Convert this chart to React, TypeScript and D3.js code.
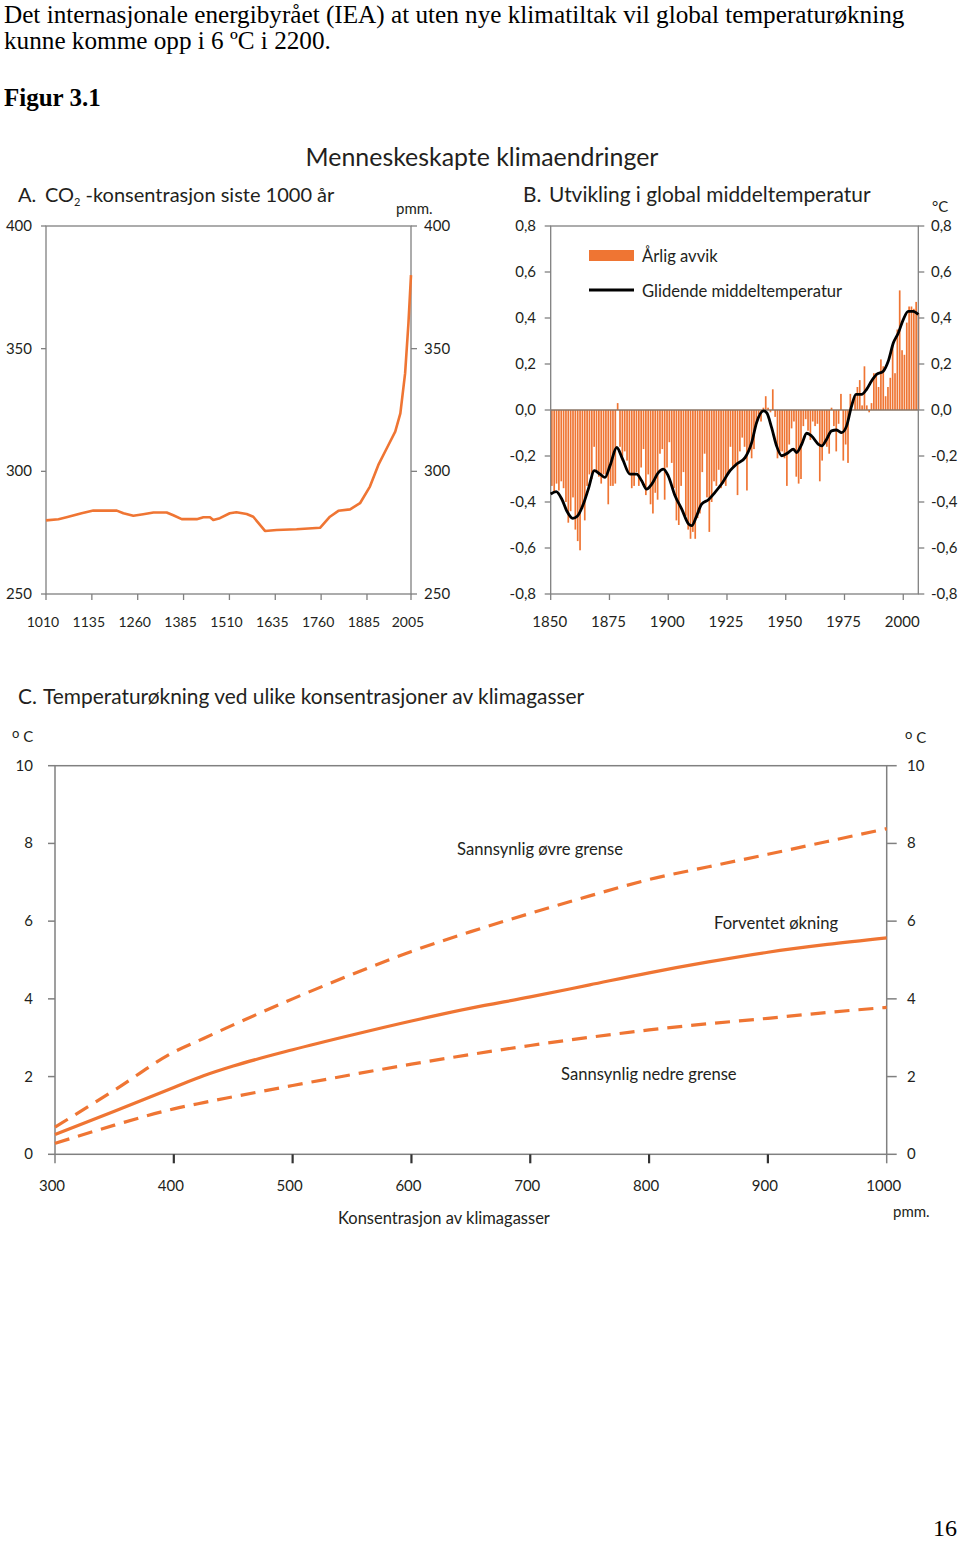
import React from "react";
import * as d3 from "d3";

// ---------- Panel A: CO2 concentration last 1000 years ----------
const co2Years = [1010, 1044, 1066, 1107, 1139, 1203, 1221, 1248, 1275, 1303, 1339, 1357, 1380, 1421, 1439, 1457, 1466, 1484, 1511, 1529, 1557, 1575, 1607, 1639, 1693, 1757, 1784, 1807, 1839, 1866, 1893, 1916, 1939, 1962, 1976, 1989, 1998, 2005];
const co2Values = [280.0, 280.5, 281.3, 282.9, 284.0, 284.0, 282.9, 281.9, 282.5, 283.2, 283.2, 282.1, 280.5, 280.5, 281.3, 281.3, 280.2, 280.9, 282.9, 283.3, 282.6, 281.5, 275.7, 276.1, 276.4, 277.0, 281.5, 283.9, 284.5, 287.0, 293.8, 302.6, 309.4, 316.2, 323.6, 340.0, 360.3, 380.0];
const co2YTicks = [250, 300, 350, 400];
const co2XTicks = [1010, 1135, 1260, 1385, 1510, 1635, 1760, 1885, 2005];

// ---------- Panel B: global mean temperature ----------
const tempFirstYear = 1850;
const tempAnomaly = [
  -0.33, -0.36, -0.32, -0.35, -0.31, -0.34, -0.40, -0.49, -0.44, -0.38,
  -0.52, -0.57, -0.61, -0.43, -0.48, -0.33, -0.28, -0.30, -0.16, -0.27,
  -0.29, -0.32, -0.28, -0.28, -0.41, -0.33, -0.33, -0.32, 0.03, -0.16,
  -0.22, -0.18, -0.22, -0.28, -0.34, -0.33, -0.27, -0.33, -0.25, -0.17,
  -0.37, -0.28, -0.41, -0.45, -0.36, -0.39, -0.19, -0.17, -0.39, -0.25,
  -0.14, -0.23, -0.34, -0.48, -0.50, -0.33, -0.27, -0.46, -0.52, -0.56,
  -0.53, -0.56, -0.47, -0.45, -0.27, -0.19, -0.38, -0.53, -0.40, -0.31,
  -0.33, -0.26, -0.34, -0.32, -0.33, -0.27, -0.16, -0.25, -0.24, -0.37,
  -0.18, -0.12, -0.16, -0.35, -0.17, -0.21, -0.17, -0.06, -0.02, -0.05,
  0.01, 0.06, 0.01, -0.01, 0.09, -0.03, -0.21, -0.18, -0.18, -0.21,
  -0.33, -0.15, -0.08, -0.05, -0.29, -0.32, -0.30, -0.07, -0.04, -0.09,
  -0.13, -0.05, -0.07, -0.06, -0.31, -0.22, -0.15, -0.16, -0.19, 0.01,
  -0.07, -0.18, -0.06, 0.07, -0.22, -0.15, -0.23, 0.07, 0.00, 0.06,
  0.10, 0.13, 0.02, 0.19, 0.02, -0.01, 0.03, 0.16, 0.16, 0.10,
  0.22, 0.19, 0.06, 0.10, 0.14, 0.28, 0.16, 0.35, 0.52, 0.26,
  0.24, 0.38, 0.45, 0.45, 0.44, 0.47, 0.42,
];
const smoothYears = [1850, 1852.3, 1854.7, 1856.8, 1859.4, 1861.3, 1863.9, 1866, 1868.6, 1871, 1873.1, 1875.2, 1878.1, 1880.6, 1883.7, 1886.6, 1888.7, 1890.8, 1893, 1895.8, 1897.9, 1900, 1902.9, 1905.7, 1908.6, 1910, 1912.1, 1914.2, 1917.1, 1919.9, 1922.7, 1926.3, 1929.1, 1932.7, 1935.5, 1937.6, 1940.5, 1941.9, 1944, 1946.1, 1948.3, 1951.1, 1953.2, 1954.6, 1956.8, 1958.9, 1961, 1963.9, 1965.3, 1967.4, 1969.5, 1971.6, 1973.8, 1975.9, 1978, 1979.9, 1982.3, 1984.4, 1986.5, 1988.7, 1991.5, 1993.6, 1995.8, 1997.9, 2000, 2002.1, 2004.3, 2006.4];
const smoothValues = [-0.365, -0.355, -0.387, -0.438, -0.471, -0.462, -0.409, -0.344, -0.264, -0.279, -0.293, -0.243, -0.163, -0.214, -0.279, -0.279, -0.308, -0.344, -0.322, -0.272, -0.257, -0.286, -0.373, -0.43, -0.495, -0.503, -0.46, -0.409, -0.39, -0.358, -0.322, -0.264, -0.235, -0.207, -0.142, -0.055, -0.004, -0.012, -0.077, -0.156, -0.199, -0.185, -0.17, -0.185, -0.149, -0.101, -0.113, -0.149, -0.156, -0.127, -0.091, -0.087, -0.098, -0.069, 0.017, 0.068, 0.068, 0.09, 0.126, 0.155, 0.169, 0.212, 0.292, 0.335, 0.393, 0.429, 0.429, 0.415];
const tempYTicks = [-0.8, -0.6, -0.4, -0.2, 0, 0.2, 0.4, 0.6, 0.8];
const tempXTicks = [1850, 1875, 1900, 1925, 1950, 1975, 2000];

// ---------- Panel C: temperature increase vs concentration ----------
const ppm = [300, 350, 400, 425, 450, 500, 550, 600, 650, 700, 750, 800, 850, 900, 950, 1000];
const upperBound = [0.70, 1.65, 2.63, 2.98, 3.33, 4.00, 4.63, 5.22, 5.73, 6.20, 6.65, 7.07, 7.40, 7.72, 8.05, 8.38];
const expected = [0.51, 1.11, 1.72, 2.02, 2.27, 2.69, 3.07, 3.43, 3.76, 4.05, 4.36, 4.67, 4.95, 5.20, 5.40, 5.57];
const lowerBound = [0.28, 0.75, 1.17, 1.33, 1.48, 1.77, 2.05, 2.32, 2.57, 2.80, 3.01, 3.20, 3.36, 3.50, 3.65, 3.78];
const cYTicks = [0, 2, 4, 6, 8, 10];
const cXTicks = [300, 400, 500, 600, 700, 800, 900, 1000];

const ORANGE = "#ef7533";
const AXIS = "#808080";
const TXT = "#231f20";
const SANS = "Lato, 'Open Sans', sans-serif";
const SERIF = "'Liberation Serif', 'Times New Roman', serif";

const fmtComma = (v: number) => (v === 0 ? "0,0" : d3.format(".1f")(v).replace(".", ",").replace("−", "-"));

export default function App() {
  // Scales
  const xA = d3.scaleLinear().domain([1010, 2005]).range([46, 411]);
  const yA = d3.scaleLinear().domain([250, 400]).range([594, 226]);
  const xB = d3.scaleLinear().domain([1850, 2006.4]).range([550.7, 918.3]);
  const yB = d3.scaleLinear().domain([-0.8, 0.8]).range([594, 226]);
  const xC = d3.scaleLinear().domain([300, 1000]).range([55, 886.7]);
  const yC = d3.scaleLinear().domain([0, 10]).range([1154.3, 765.7]);

  const co2Line = d3
    .line<number>()
    .x((_, i) => xA(co2Years[i]))
    .y((d) => yA(d))
    .curve(d3.curveLinear)(co2Values) as string;

  const smoothLine = d3
    .line<number>()
    .x((_, i) => xB(smoothYears[i]))
    .y((d) => yB(d))
    .curve(d3.curveMonotoneX)(smoothValues) as string;

  const cLine = (vals: number[]) =>
    d3
      .line<number>()
      .x((_, i) => xC(ppm[i]))
      .y((d) => yC(d))
      .curve(d3.curveMonotoneX)(vals) as string;

  const barStep = xB(1851) - xB(1850);
  const barW = barStep * 0.72;

  return (
    <svg
      width={960}
      height={1543}
      viewBox="0 0 960 1543"
      style={{ position: "absolute", left: 0, top: 0, background: "#fff" }}
    >
      <rect x={0} y={0} width={960} height={1543} fill="#fff" />
      {/* Page text */}
      <g fontFamily={SERIF} fill="#000">
        <text x={4} y={23} fontSize={25.2}>
          Det internasjonale energibyrået (IEA) at uten nye klimatiltak vil global temperaturøkning
        </text>
        <text x={4} y={49} fontSize={25.2}>
          kunne komme opp i 6 ºC i 2200.
        </text>
        <text x={4} y={106} fontSize={25} fontWeight="bold">
          Figur 3.1
        </text>
        <text x={957} y={1536} fontSize={24} textAnchor="end">
          16
        </text>
      </g>

      <g fontFamily={SANS} fill={TXT}>
        <text x={482} y={166} fontSize={24.9} textAnchor="middle">
          Menneskeskapte klimaendringer
        </text>

        {/* ================= Panel A ================= */}
        <text x={18} y={202} fontSize={20}>A.</text>
        <text x={45} y={202} fontSize={20}>
          CO<tspan fontSize={11} dy={4}>2</tspan>
          <tspan dy={-4}> -konsentrasjon siste 1000 år</tspan>
        </text>
        <text x={396} y={214} fontSize={15}>pmm.</text>
        <rect x={xA(1010)} y={yA(400)} width={xA(2005) - xA(1010)} height={yA(250) - yA(400)} fill="none" stroke={AXIS} strokeWidth={1.3} />
        {co2YTicks.map((t) => (
          <g key={"ay" + t}>
            <line x1={xA(1010) - 5} x2={xA(1010)} y1={yA(t)} y2={yA(t)} stroke={AXIS} strokeWidth={1.3} />
            <line x1={xA(2005)} x2={xA(2005) + 6} y1={yA(t)} y2={yA(t)} stroke={AXIS} strokeWidth={1.3} />
            <text x={32} y={yA(t) + 5} fontSize={15} textAnchor="end">{t}</text>
            <text x={424} y={yA(t) + 5} fontSize={15}>{t}</text>
          </g>
        ))}
        {co2XTicks.map((t) => (
          <g key={"ax" + t}>
            <line x1={xA(t)} x2={xA(t)} y1={yA(250)} y2={yA(250) + 6} stroke={AXIS} strokeWidth={1.3} />
            <text x={xA(t) - 3} y={627} fontSize={14} textAnchor="middle">{t}</text>
          </g>
        ))}
        <path d={co2Line} fill="none" stroke={ORANGE} strokeWidth={2.6} strokeLinejoin="round" />

        {/* ================= Panel B ================= */}
        <text x={523} y={202} fontSize={20.9}>B.</text>
        <text x={549} y={202} fontSize={20.9}>Utvikling i global middeltemperatur</text>
        <text x={932} y={212} fontSize={15}>°C</text>
        {tempAnomaly.map((v, i) => {
          const yr = tempFirstYear + i;
          const y0 = yB(0);
          const y1 = yB(v);
          return (
            <rect
              key={"b" + yr}
              x={xB(yr) + 0.3}
              y={Math.min(y0, y1)}
              width={barW}
              height={Math.abs(y1 - y0)}
              fill={ORANGE}
            />
          );
        })}
        <line x1={xB(1850)} x2={xB(2006.4)} y1={yB(0)} y2={yB(0)} stroke="#8a7565" strokeWidth={1.4} />
        <rect x={xB(1850)} y={yB(0.8)} width={xB(2006.4) - xB(1850)} height={yB(-0.8) - yB(0.8)} fill="none" stroke={AXIS} strokeWidth={1.3} />
        {tempYTicks.map((t) => (
          <g key={"by" + t}>
            <line x1={xB(1850) - 6} x2={xB(1850)} y1={yB(t)} y2={yB(t)} stroke={AXIS} strokeWidth={1.3} />
            <line x1={xB(2006.4)} x2={xB(2006.4) + 6} y1={yB(t)} y2={yB(t)} stroke={AXIS} strokeWidth={1.3} />
            <text x={536} y={yB(t) + 5} fontSize={15} textAnchor="end">{fmtComma(t)}</text>
            <text x={931} y={yB(t) + 5} fontSize={15}>{fmtComma(t)}</text>
          </g>
        ))}
        {tempXTicks.map((t) => (
          <g key={"bx" + t}>
            <line x1={xB(t)} x2={xB(t)} y1={yB(-0.8)} y2={yB(-0.8) + 6} stroke={AXIS} strokeWidth={1.3} />
            <text x={xB(t) - 1} y={627} fontSize={15} textAnchor="middle">{t}</text>
          </g>
        ))}
        <path d={smoothLine} fill="none" stroke="#000" strokeWidth={2.8} strokeLinejoin="round" />
        {/* legend */}
        <rect x={589} y={250} width={45} height={11} fill={ORANGE} />
        <text x={642} y={262} fontSize={16.6}>Årlig avvik</text>
        <line x1={589} x2={634} y1={290} y2={290} stroke="#000" strokeWidth={3} />
        <text x={642} y={297} fontSize={16.6}>Glidende middeltemperatur</text>

        {/* ================= Panel C ================= */}
        <text x={18} y={704} fontSize={20.9}>C.</text>
        <text x={43} y={704} fontSize={20.9}>Temperaturøkning ved ulike konsentrasjoner av klimagasser</text>
        <text x={12} y={742} fontSize={15}>
          <tspan fontSize={13} dy={-4}>o</tspan>
          <tspan dy={4}> C</tspan>
        </text>
        <text x={905} y={743} fontSize={15}>
          <tspan fontSize={13} dy={-4}>o</tspan>
          <tspan dy={4}> C</tspan>
        </text>
        <rect x={xC(300)} y={yC(10)} width={xC(1000) - xC(300)} height={yC(0) - yC(10)} fill="none" stroke={AXIS} strokeWidth={1.5} />
        {cYTicks.map((t) => (
          <g key={"cy" + t}>
            <line x1={xC(300) - 7} x2={xC(300)} y1={yC(t)} y2={yC(t)} stroke={AXIS} strokeWidth={1.5} />
            <line x1={xC(1000)} x2={xC(1000) + 10} y1={yC(t)} y2={yC(t)} stroke={AXIS} strokeWidth={1.5} />
            <text x={33} y={yC(t) + 5} fontSize={15} textAnchor="end">{t}</text>
            <text x={907} y={yC(t) + 5} fontSize={15}>{t}</text>
          </g>
        ))}
        {cXTicks.map((t) => (
          <g key={"cx" + t}>
            <line x1={xC(t)} x2={xC(t)} y1={yC(0)} y2={yC(0) + 9} stroke={t === 300 || t === 1000 ? AXIS : "#333"} strokeWidth={t === 300 || t === 1000 ? 1.5 : 2.2} />
            <text x={xC(t) - 3} y={1191} fontSize={15} textAnchor="middle">{t}</text>
          </g>
        ))}
        <text x={338} y={1224} fontSize={16.5}>Konsentrasjon av klimagasser</text>
        <text x={893} y={1217} fontSize={15}>pmm.</text>

        <path d={cLine(upperBound)} fill="none" stroke={ORANGE} strokeWidth={3.2} strokeDasharray="15 9" />
        <path d={cLine(expected)} fill="none" stroke={ORANGE} strokeWidth={3.2} />
        <path d={cLine(lowerBound)} fill="none" stroke={ORANGE} strokeWidth={3.2} strokeDasharray="15 9" />

        <text x={457} y={855} fontSize={16.6}>Sannsynlig øvre grense</text>
        <text x={714} y={929} fontSize={16.6}>Forventet økning</text>
        <text x={561} y={1080} fontSize={16.6}>Sannsynlig nedre grense</text>
      </g>
    </svg>
  );
}
